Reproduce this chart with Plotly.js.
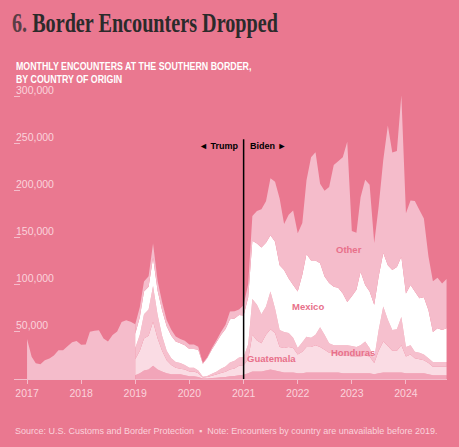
<!DOCTYPE html>
<html>
<head>
<meta charset="utf-8">
<script src="https://cdn.plot.ly/plotly-3.0.1.min.js"></script>
<style>
  html, body { margin: 0; padding: 0; background: #ea7890; }
  #chart { width: 459px; height: 447px; }
</style>
</head>
<body>
<div id="chart"></div>
<script>
// ---- Data (thousands of encounters per month) ----
// Total encounters, Jan 2017 – Jan 2019 (country breakdown unavailable)
const totalPre = [42.5, 23.6, 16.8, 15.8, 19.9, 21.7, 25.0, 30.6, 30.6, 34.9, 39.0, 40.5,
                  36.5, 36.7, 50.3, 51.2, 51.9, 43.2, 40.0, 46.7, 50.6, 60.7, 62.5, 60.8,
                  58.3];
// By country, Jan 2019 – Oct 2024
const elSalvador = [4, 6, 9, 10, 14, 10, 8, 6, 5, 5, 5, 4,
                    3, 3, 2, 0.5, 0.6, 1, 1.3, 1.8, 2.2, 3, 3.3, 4,
                    4.5, 6, 8, 8, 8, 9, 10, 9, 8, 7, 7, 7,
                    6, 6, 7, 7, 7, 7, 7, 7, 7, 7, 6, 6,
                    6, 6, 6, 6, 6, 5, 6, 7, 7, 7, 7, 7,
                    6, 6, 6, 6, 6, 5, 4, 4, 4, 4];
const guatemala = [17, 24, 34, 36, 47, 33, 22, 14, 10, 7, 6, 6,
                   5, 5, 4, 1, 1.5, 2.5, 3.5, 4.5, 5.5, 7, 8, 10,
                   10, 15, 39, 33, 30, 38, 43, 40, 26, 26, 27, 26,
                   20, 23, 27, 27, 29, 27, 24, 21, 20, 19, 19, 19,
                   18, 18, 18, 19, 18, 12, 24, 33, 28, 23, 23, 29,
                   18, 20, 16, 15, 14, 12, 9, 9, 9, 9];
const honduras = [12, 17, 26, 28, 38, 25, 16, 10, 7, 6, 6, 5,
                  4, 4, 3, 0.8, 1.2, 2, 3, 4.5, 5.5, 7.5, 8, 9,
                  9, 16, 38, 38, 31, 30, 40, 26, 18, 17, 15, 11,
                  7, 10, 11, 10, 11, 21, 16, 10, 9, 10, 11, 11,
                  11, 10, 12, 15, 9, 5, 22, 37, 28, 22, 23, 30,
                  10, 10, 7, 7, 6, 5, 5, 5, 5, 5];
const mexico = [15, 19, 24, 24, 30, 26, 27, 26, 24, 22, 21, 21,
                20, 20, 22, 14, 19, 26, 31, 36, 40, 46, 45, 45,
                44, 50, 62, 65, 71, 68, 60, 71, 69, 66, 58, 56,
                60, 72, 88, 82, 79, 68, 62, 64, 62, 61, 55, 46,
                53, 61, 78, 60, 60, 57, 57, 57, 58, 64, 66, 64,
                57, 64, 64, 58, 61, 51, 32, 36, 34, 36];
const other = [10.3, 10.5, 10.7, 11.4, 15.1, 10.3, 8.8, 6.7, 6.5, 5.1, 4.6, 4.6,
               4.6, 4.7, 3.4, 0.8, 0.9, 1.5, 2.1, 3.2, 4.5, 8.4, 7.8, 5.9,
               10.9, 14.1, 26.3, 34.8, 40.6, 44.0, 60.6, 63.8, 71.0, 48.8, 67.8, 79.3,
               61.9, 55.0, 78.2, 109.8, 115.1, 84.8, 91.2, 102.1, 129.5, 134.5, 145.0, 170.3,
               69.4, 60.6, 79.2, 111.9, 113.7, 65.6, 74.5, 98.9, 148.7, 124.9, 123.4, 171.9,
               85.2, 89.9, 96.4, 93.7, 83.7, 57.4, 54.1, 53.6, 49.7, 52.3];

const yearTicks = ['2017', '2018', '2019', '2020', '2021', '2022', '2023', '2024'];
const yTickVals = [50, 100, 150, 200, 250, 300];
const yTickText = ['50,000', '100,000', '150,000', '200,000', '250,000', '300,000'];

function months(startYear, startMonth, n) {
  const out = [];
  let y = startYear, m = startMonth;
  for (let i = 0; i < n; i++) {
    out.push(y + '-' + String(m).padStart(2, '0') + '-01');
    m++; if (m > 12) { m = 1; y++; }
  }
  return out;
}
const xPre = months(2017, 1, totalPre.length);
const xCountry = months(2019, 1, elSalvador.length);

const BG = '#ea7890';
const PALE = '#fad3dc';
const LABEL = '#e8708a';
const sans = 'Liberation Sans, Arial, sans-serif';

function layer(name, x, y, color) {
  return { type: 'scatter', mode: 'none', name: name, x: x, y: y,
           stackgroup: 'country', fillcolor: color, line: { width: 0 },
           hoverinfo: 'skip' };
}

const traces = [
  { type: 'scatter', mode: 'none', name: 'Total', x: xPre, y: totalPre,
    fill: 'tozeroy', fillcolor: '#f5bccb', line: { width: 0 }, hoverinfo: 'skip' },
  layer('El Salvador', xCountry, elSalvador, '#f2a5b9'),
  layer('Guatemala', xCountry, guatemala, '#fadce4'),
  layer('Honduras', xCountry, honduras, '#f6c0ce'),
  layer('Mexico', xCountry, mexico, '#ffffff'),
  layer('Other', xCountry, other, '#f5bccb')
];

const yLabelAnnotations = yTickVals.map((v, i) => ({
  xref: 'paper', yref: 'y', x: 0, y: v, xanchor: 'left', yanchor: 'bottom',
  yshift: -1, showarrow: false, text: yTickText[i],
  font: { family: sans, size: 10.5, color: PALE }
}));

const layout = {
  width: 459, height: 447,
  paper_bgcolor: BG, plot_bgcolor: BG,
  margin: { l: 14, r: 12, t: 90, b: 68 },
  showlegend: false,
  title: {
    text: '<span style="color:#5a3d45">6.</span> Border Encounters Dropped',
    font: { family: 'Liberation Serif, serif', size: 27, color: '#2b2b2b', weight: 700 },
    xref: 'container', yref: 'container', x: 12 / 459, xanchor: 'left',
    y: 1 - 23 / 447, yanchor: 'middle'
  },
  xaxis: {
    type: 'date', range: ['2016-10-05', '2024-10-04'],
    tickvals: yearTicks.map(y => y + '-01-01'), ticktext: yearTicks,
    ticks: 'outside', ticklen: 4, tickcolor: '#f4bccb', tickwidth: 1,
    showline: true, linecolor: '#f4bccb', linewidth: 1,
    showgrid: false, zeroline: false,
    tickfont: { family: sans, size: 10.5, color: PALE }
  },
  yaxis: {
    range: [0, 307.4],
    tickvals: yTickVals, ticktext: yTickText, showticklabels: false,
    ticks: 'inside', ticklen: 6, tickcolor: '#f4bccb', tickwidth: 1,
    showline: false, showgrid: false, zeroline: false
  },
  shapes: [
    { type: 'line', xref: 'x', yref: 'y', x0: '2021-01-01', x1: '2021-01-01',
      y0: 0, y1: 255, line: { color: '#000000', width: 1.5 } }
  ],
  annotations: yLabelAnnotations.concat([
    { xref: 'paper', yref: 'paper', x: 0, y: 1 + (90 - 59) / 289, xanchor: 'left', yanchor: 'top',
      align: 'left', showarrow: false,
      text: 'MONTHLY ENCOUNTERS AT THE SOUTHERN BORDER,<br>BY COUNTRY OF ORIGIN',
      font: { family: sans, size: 10, color: '#ffffff', weight: 700 } },
    { xref: 'paper', yref: 'paper', x: -1 / 433, y: -(431 - 379) / 289, xanchor: 'left', yanchor: 'middle',
      showarrow: false,
      text: 'Source: U.S. Customs and Border Protection  \u25AA  Note: Encounters by country are unavailable before 2019.',
      font: { family: sans, size: 9, color: PALE } },
    { xref: 'x', yref: 'y', x: '2021-01-01', y: 248, xanchor: 'right', yanchor: 'middle', xshift: -4,
      showarrow: false, text: '\u25C4 Trump',
      font: { family: sans, size: 9, color: '#000000', weight: 700 } },
    { xref: 'x', yref: 'y', x: '2021-01-01', y: 248, xanchor: 'left', yanchor: 'middle', xshift: 4,
      showarrow: false, text: 'Biden \u25BA',
      font: { family: sans, size: 9, color: '#000000', weight: 700 } },
    { xref: 'x', yref: 'y', x: '2022-12-13', y: 138, showarrow: false, text: 'Other',
      font: { family: sans, size: 9.5, color: LABEL, weight: 700 } },
    { xref: 'x', yref: 'y', x: '2022-03-10', y: 76.6, showarrow: false, text: 'Mexico',
      font: { family: sans, size: 9.5, color: LABEL, weight: 700 } },
    { xref: 'x', yref: 'y', x: '2021-07-10', y: 22.3, showarrow: false, text: 'Guatemala',
      font: { family: sans, size: 9.5, color: LABEL, weight: 700 } },
    { xref: 'x', yref: 'y', x: '2023-01-08', y: 27.7, showarrow: false, text: 'Honduras',
      font: { family: sans, size: 9.5, color: LABEL, weight: 700 } }
  ])
};

function squeeze(el, targetWidth) {
  if (!el) return;
  const b = el.getBBox();
  if (!b.width) return;
  const s = targetWidth / b.width;
  if (s >= 1) return;
  el.setAttribute('transform', 'translate(' + b.x + ',0) scale(' + s + ',1) translate(' + (-b.x) + ',0)');
}

Plotly.newPlot('chart', traces, layout, { staticPlot: true, displayModeBar: false }).then(gd => {
  squeeze(gd.querySelector('.gtitle'), 266);
  const subs = Array.from(gd.querySelectorAll('.annotation-text')).filter(t => t.textContent.indexOf('MONTHLY') === 0);
  subs.forEach(t => squeeze(t, 236));
});
</script>
</body>
</html>
